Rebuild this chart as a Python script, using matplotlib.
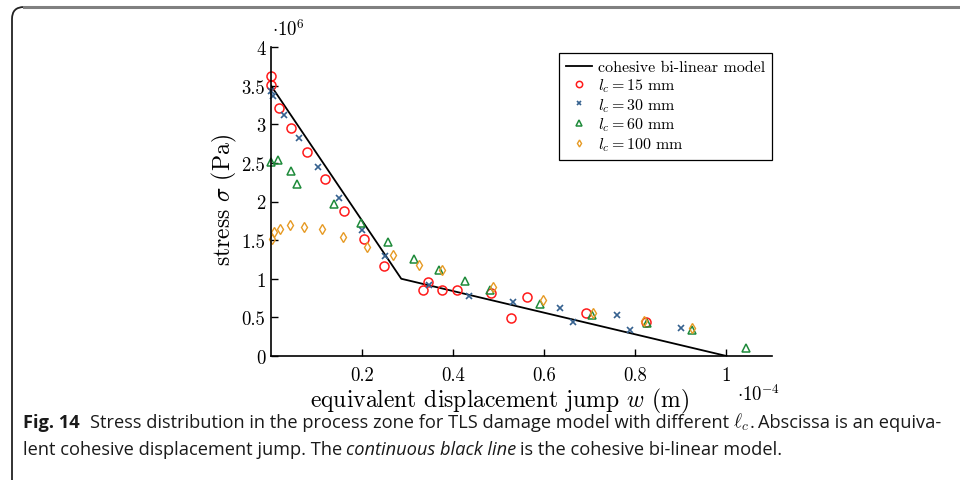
import matplotlib
matplotlib.use("Agg")
import matplotlib.pyplot as plt
from matplotlib.path import Path
from matplotlib.patches import PathPatch
from matplotlib.ticker import FuncFormatter

plt.rcParams['font.family'] = 'serif'
plt.rcParams['font.serif'] = ['cmr10']
plt.rcParams['mathtext.fontset'] = 'cm'
plt.rcParams['axes.formatter.use_mathtext'] = True

# w in 1e-4 m, stress in 1e6 Pa
model_w = [0.0, 0.286, 1.0]
model_s = [3.5, 1.0, 0.0]

w_15 = [0.0, 0.0, 0.018, 0.045, 0.078, 0.118, 0.160, 0.205, 0.249, 0.334,
        0.344, 0.376, 0.409, 0.482, 0.528, 0.562, 0.691, 0.824]
s_15 = [3.62, 3.51, 3.21, 2.95, 2.645, 2.29, 1.88, 1.52, 1.17, 0.86,
        0.96, 0.86, 0.86, 0.81, 0.49, 0.76, 0.556, 0.436]

w_30 = [0.0, 0.005, 0.028, 0.062, 0.104, 0.150, 0.200, 0.250, 0.346, 0.435,
        0.531, 0.634, 0.662, 0.760, 0.789, 0.901]
s_30 = [3.43, 3.37, 3.12, 2.82, 2.45, 2.045, 1.63, 1.30, 0.92, 0.78,
        0.695, 0.617, 0.444, 0.531, 0.34, 0.362]

w_60 = [0.0, 0.015, 0.043, 0.057, 0.139, 0.197, 0.257, 0.313, 0.368, 0.425,
        0.480, 0.591, 0.705, 0.825, 0.924, 1.044]
s_60 = [2.51, 2.54, 2.40, 2.23, 1.97, 1.72, 1.476, 1.26, 1.11, 0.967,
        0.86, 0.67, 0.53, 0.427, 0.337, 0.108]

w_100 = [0.002, 0.006, 0.020, 0.041, 0.072, 0.113, 0.159, 0.211, 0.267, 0.325,
         0.376, 0.488, 0.598, 0.707, 0.818, 0.924]
s_100 = [1.51, 1.61, 1.64, 1.70, 1.67, 1.64, 1.54, 1.41, 1.31, 1.18,
         1.11, 0.89, 0.72, 0.556, 0.457, 0.362]

x_ticks = [0.2, 0.4, 0.6, 0.8, 1.0]
y_ticks = [0, 0.5, 1, 1.5, 2, 2.5, 3, 3.5, 4]

W, H = 960, 481
fig = plt.figure(figsize=(W / 100, H / 100), dpi=100)
ax = fig.add_axes([271 / W, 1 - 357 / H, 501 / W, 309 / H])

ax.plot(model_w, model_s, color='black', lw=1.3, label='cohesive bi-linear model')
ax.plot(w_15, s_15, 'o', ls='none', mfc='none', mec='#ff1a1a', ms=6.5, mew=1.1,
        clip_on=False, label=r'$l_c = 15\ \mathrm{mm}$')
ax.plot(w_30, s_30, 'x', ls='none', color='#35618f', ms=4, mew=1.2,
        clip_on=False, label=r'$l_c = 30\ \mathrm{mm}$')
ax.plot(w_60, s_60, '^', ls='none', mfc='none', mec='#1e8a3a', ms=5.5, mew=1.1,
        clip_on=False, label=r'$l_c = 60\ \mathrm{mm}$')
ax.plot(w_100, s_100, 'd', ls='none', mfc='none', mec='#e69a24', ms=5, mew=1.0,
        clip_on=False, label=r'$l_c = 100\ \mathrm{mm}$')

ax.set_xlim(0, 1.1)
ax.set_ylim(0, 4)
ax.set_xticks(x_ticks)
ax.set_yticks(y_ticks)
fmt = FuncFormatter(lambda v, p: '%g' % v)
ax.xaxis.set_major_formatter(fmt)
ax.yaxis.set_major_formatter(fmt)
ax.tick_params(direction='in', length=5, width=1, labelsize=13.5, color='black')
ax.tick_params(axis='x', pad=7)
ax.tick_params(axis='y', pad=4)
for s in ['top', 'right']:
    ax.spines[s].set_visible(False)
for s in ['left', 'bottom']:
    ax.spines[s].set_linewidth(1.2)

leg = ax.legend(loc='upper left', bbox_to_anchor=(559 / W, 1 - 54 / H),
                bbox_transform=fig.transFigure, fancybox=False, framealpha=1,
                edgecolor='black', fontsize=11.5, handlelength=1.6,
                labelspacing=0.12, borderpad=0.45, handletextpad=0.4,
                borderaxespad=0, markerscale=0.7)
leg.get_frame().set_linewidth(0.9)

fig.text(272 / W, 1 - 30 / H, r'$\cdot 10^{6}$', fontsize=13.5, va='center')
fig.text(737 / W, 1 - 395 / H, r'$\cdot 10^{-4}$', fontsize=13.5, va='center')
fig.text(500 / W, 1 - 401 / H, r'equivalent displacement jump $w$ (m)',
         fontsize=17, ha='center', va='center')
fig.text(224 / W, 1 - 200 / H, r'stress $\sigma$ (Pa)', fontsize=17,
         rotation=90, ha='center', va='center')

# page frame (rounded corner top-left)
left = Path([(12 / W, 0), (12 / W, 1 - 20 / H), (12 / W, 1 - 8 / H), (24 / W, 1 - 8 / H)],
            [Path.MOVETO, Path.LINETO, Path.CURVE3, Path.CURVE3])
fig.add_artist(PathPatch(left, fill=False, ec='#222222', lw=1.3, transform=fig.transFigure))
fig.add_artist(plt.Line2D([24 / W, 1], [1 - 8 / H, 1 - 8 / H], color='#808080', lw=2.2,
                          transform=fig.transFigure))

# caption
cap_font = ['Open Sans', 'DejaVu Sans']
cap_size = 13.15
renderer = fig.canvas.get_renderer()


def write_line(pieces, x, y):
    for s, gap, kw in pieces:
        x += gap
        t = fig.text(x / W, 1 - y / H, s, va='baseline', fontsize=kw.pop('size', cap_size),
                     family=cap_font, color='#1a1a1a', **kw)
        x = t.get_window_extent(renderer).x1


sp = 4
write_line([('Fig. 14', 0, {'weight': 'bold'}),
            ('Stress distribution in the process zone for TLS damage model with different', 10, {}),
            (r'$\ell_c$', sp, {'size': 14}),
            ('.', 0.5, {}),
            ('Abscissa is an equiva-', sp, {})], 23, 428)
write_line([('lent cohesive displacement jump. The', 0, {}),
            ('continuous black line', sp, {'style': 'italic'}),
            ('is the cohesive bi-linear model.', sp, {})], 23, 455)

fig.savefig('out.png', dpi=100)
